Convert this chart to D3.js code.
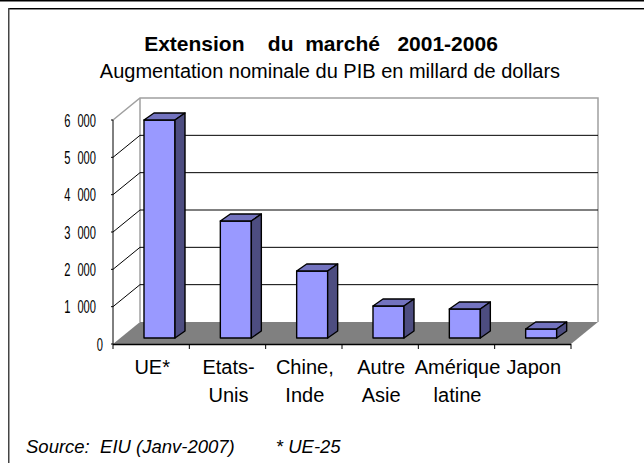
<!DOCTYPE html>
<html><head><meta charset="utf-8">
<script src="https://cdn.jsdelivr.net/npm/d3@7/dist/d3.min.js"></script>
<style>html,body{margin:0;padding:0;background:#fff}svg{display:block}text{font-family:"Liberation Sans",Arial,sans-serif;fill:#000}</style>
</head><body><svg id="c" width="644" height="463"></svg>
<script>
const categories=[["UE*"],["Etats-","Unis"],["Chine,","Inde"],["Autre","Asie"],["Amérique","latine"],["Japon"]];
const values=[5840,3134,1795,857,777,241];
const ticks=[0,1000,2000,3000,4000,5000,6000];
const tickLabels=["0","1 000","2 000","3 000","4 000","5 000","6 000"];
const titleText="Extension    du  marché   2001-2006";
const subtitleText="Augmentation nominale du PIB en millard de dollars";
const sourceText="Source:  EIU (Janv-2007)        * UE-25";

const svg=d3.select("#c");
const x=d3.scaleBand().domain(d3.range(categories.length)).range([113,571]).padding(0);
const y=d3.scaleLinear().domain([0,6000]).range([344,120]);
const depth={dx:27,dy:-22}, bar={dx:10,dy:-7,inset:31,w:31,lift:6};

// frame
svg.append("rect").attr("x",0).attr("y",0).attr("width",644).attr("height",1.5).attr("fill","#000");
svg.append("rect").attr("x",8).attr("y",8).attr("width",636).attr("height",1).attr("fill","#000");
svg.append("rect").attr("x",8).attr("y",9).attr("width",636).attr("height",1).attr("fill","#8c8c8c");
svg.append("rect").attr("x",8).attr("y",8).attr("width",1.5).attr("height",455).attr("fill","#444");

// floor
const x0=x.range()[0],x1=x.range()[1],y0=y(0);
svg.append("path").attr("d",`M${x0},${y0}L${x0+depth.dx},${y0+depth.dy}L${x1+depth.dx},${y0+depth.dy}L${x1},${y0}Z`).attr("fill","#808080");

// walls
svg.append("path").attr("d",`M${x0},${y(6000)}L${x0+depth.dx},${y(6000)+depth.dy}L${x1+depth.dx},${y(6000)+depth.dy}L${x1+depth.dx},${y0+depth.dy}`).attr("fill","none").attr("stroke","#a0a0a0").attr("stroke-width",1.5);
svg.append("path").attr("d",`M${x0+depth.dx},${y(6000)+depth.dy}L${x0+depth.dx},${y0+depth.dy}`).attr("stroke","#a0a0a0").attr("stroke-width",1.5);

// grid
const g=svg.append("g").attr("stroke","#000").attr("fill","none");
ticks.filter(t=>t>0&&t<6000).forEach(t=>{
  g.append("path").attr("d",`M${x0},${y(t)}L${x0+depth.dx},${y(t)+depth.dy}L${x1+depth.dx},${y(t)+depth.dy}`);
});

// axes
const ax=svg.append("g").attr("stroke","#000");
ax.append("line").attr("x1",x0).attr("x2",x0).attr("y1",y(6000)).attr("y2",y0).attr("stroke-width",1);
ax.append("line").attr("x1",x0).attr("x2",x1).attr("y1",y0+.5).attr("y2",y0+.5).attr("stroke-width",1.5);
ticks.forEach(t=>ax.append("line").attr("x1",x0-2).attr("x2",x0).attr("y1",y(t)).attr("y2",y(t)));
d3.range(categories.length+1).forEach(i=>{const p=i<categories.length?x(i):x1;ax.append("line").attr("x1",p).attr("x2",p).attr("y1",y0).attr("y2",y0+5);});

// bars
values.forEach((v,i)=>{
  const l=x(i)+bar.inset,r=l+bar.w,t=y(v)-bar.lift,b=y0-bar.lift;
  const s=svg.append("g").attr("stroke","#000").attr("stroke-width",1.4).attr("stroke-linejoin","round");
  s.append("rect").attr("x",l).attr("y",t).attr("width",r-l).attr("height",b-t).attr("fill","#9999ff");
  s.append("path").attr("d",`M${l},${t}L${l+bar.dx},${t+bar.dy}L${r+bar.dx},${t+bar.dy}L${r},${t}Z`).attr("fill","#7373bf");
  s.append("path").attr("d",`M${r},${t}L${r+bar.dx},${t+bar.dy}L${r+bar.dx},${b+bar.dy}L${r},${b}Z`).attr("fill","#4d4d80");
});

// y labels, horizontally condensed
ticks.forEach((t,i)=>{
  const px=t===0?103:96, py=y(t)+6.5;
  svg.append("text").attr("transform",`translate(${px},${py}) scale(.62,1)`).attr("text-anchor","end").attr("font-size",18).attr("word-spacing",6).text(tickLabels[i]);
});

// x labels
categories.forEach((lines,i)=>{
  lines.forEach((s,j)=>{
    svg.append("text").attr("x",x(i)+x.bandwidth()/2+1).attr("y",374+j*28).attr("text-anchor","middle").attr("font-size",20).text(s);
  });
});

svg.append("text").attr("x",321).attr("y",51).attr("text-anchor","middle").attr("font-size",21).attr("font-weight","bold").style("white-space","pre").text(titleText);
svg.append("text").attr("x",330).attr("y",78).attr("text-anchor","middle").attr("font-size",20).text(subtitleText);
svg.append("text").attr("x",26).attr("y",453).attr("font-size",18.5).attr("font-style","italic").style("white-space","pre").text(sourceText);
</script></body></html>
